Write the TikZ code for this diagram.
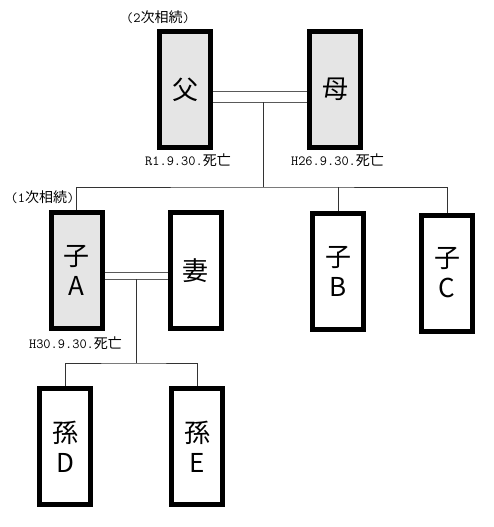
\documentclass[tikz,border=0pt]{standalone}
\usepackage{fontspec}
\newfontfamily\jp{Noto Sans CJK JP}
\usetikzlibrary{calc}

\begin{document}
\begin{tikzpicture}[
  x=1pt, y=-1pt,
  person/.style={draw, line width=5pt, minimum width=51pt, minimum height=116pt,
    inner sep=0pt, align=center, font=\jp\fontsize{26}{30}\selectfont},
  dead/.style={person, fill=gray!20},
  tree/.style={draw=black!80, line width=0.8pt},
  marr/.style={draw=black!65, line width=0.8pt},
  note/.style={inner sep=0pt, font=\ttfamily\fontsize{14}{16}\selectfont}
]
  \useasboundingbox (0,0) rectangle (493,527);

  % generation 1
  \node[dead] (F) at (185,89.5) {父};
  \node[dead] (M) at (335,89.5) {母};
  % generation 2
  \node[dead] (A) at (76.5,270.5) {子\\A};
  \node[person] (W) at (195.5,270.5) {妻};
  \node[person] (B) at (338,271.5) {子\\B};
  \node[person] (C) at (447,273) {子\\C};
  % generation 3
  \node[person] (D) at (65,446.5) {孫\\D};
  \node[person] (E) at (197,446.5) {孫\\E};

  % notes
  \node[note] (n2) at (158,17) {(2{\jp 次相続})};
  \node[note] (n1) at (42.5,197) {(1{\jp 次相続})};
  \node[note] (dF) at (188,160) {R1.9.30.{\jp 死亡}};
  \node[note] (dM) at (337.5,160) {H26.9.30.{\jp 死亡}};
  \node[note] (dA) at (75.5,343.5) {H30.9.30.{\jp 死亡}};

  % marriages (two thin lines each)
  \draw[marr] ($(F.east)+(0,1.5)$) -- ($(M.west)+(0,1.5)$);
  \draw[marr] ($(F.east)+(0,12.5)$) -- ($(M.west)+(0,12.5)$);
  \draw[marr] ($(A.east)+(0,1.5)$) -- ($(W.west)+(0,1.5)$);
  \draw[marr] ($(A.east)+(0,8.5)$) -- ($(W.west)+(0,8.5)$);

  % descendants
  \coordinate (FM) at (263,102);
  \coordinate (S1) at (263,187);
  \draw[tree] (FM) -- (S1);
  \draw[tree] (A.north) |- (S1) -| (C.north);
  \draw[tree] (B.north) -- (B.north |- S1);

  \coordinate (AW) at (136,279);
  \coordinate (S2) at (136,363);
  \draw[tree] (AW) -- (S2);
  \draw[tree] (D.north) |- (S2) -| (E.north);
\end{tikzpicture}
\end{document}
